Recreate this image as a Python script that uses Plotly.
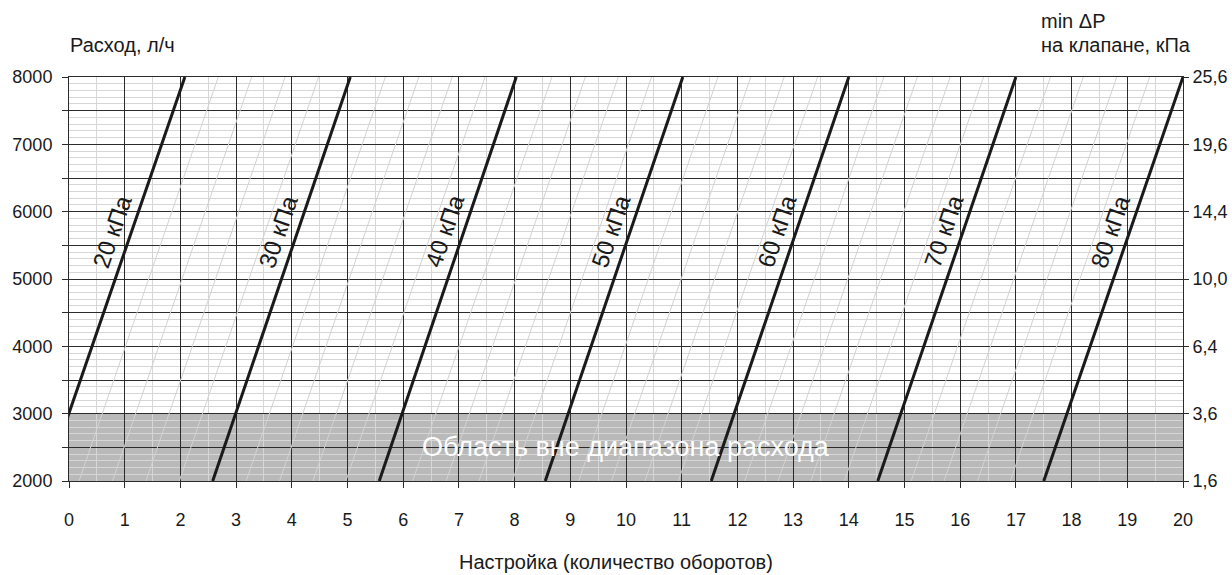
import plotly.graph_objects as go

# ---------------- data ----------------
setting_ticks = list(range(0, 21))                      # Настройка (обороты)
flow_ticks = [2000, 2500, 3000, 3500, 4000, 4500, 5000, 5500, 6000, 6500, 7000, 7500, 8000]
flow_tick_text = ["2000", "", "3000", "", "4000", "", "5000", "", "6000", "", "7000", "", "8000"]
dp_tick_vals = [2000, 3000, 4000, 5000, 6000, 7000, 8000]
dp_tick_text = ["1,6", "3,6", "6,4", "10,0", "14,4", "19,6", "25,6"]

# thick ΔP lines: setting at flow 2000 and at flow 8000
dp_labels = ["20 кПа", "30 кПа", "40 кПа", "50 кПа", "60 кПа", "70 кПа", "80 кПа"]
dp_x_bottom = [-0.42, 2.58, 5.57, 8.55, 11.53, 14.52, 17.50]
dp_x_top = [2.08, 5.05, 8.03, 11.02, 14.00, 17.00, 20.00]

# thin intermediate lines
thin_x_bottom = [0.18, 0.78, 1.38, 1.98, 3.18, 3.78, 4.38, 4.97,
                 6.17, 6.77, 7.36, 7.96, 9.15, 9.74, 10.34, 10.94,
                 12.13, 12.73, 13.32, 13.92, 15.12, 15.71, 16.31, 16.90]
thin_x_top = [2.68, 3.28, 3.88, 4.48, 5.68, 6.28, 6.88, 7.47,
              8.67, 9.27, 9.86, 10.46, 11.65, 12.24, 12.84, 13.44,
              14.63, 15.23, 15.82, 16.42, 17.62, 18.21, 18.81, 19.40]

flow_min, flow_max = 2000, 8000
band_flow = [2000, 3000]          # область вне диапазона расхода
label_flow = 5712                 # flow level where the line labels sit

FONT = "Arial, 'Liberation Sans', sans-serif"
DARK = "#2b2b2b"
MINOR = "#d6d6d6"
TXT = "#1a1a1a"

fig = go.Figure()

# thin lines
tx, ty = [], []
for xb, xt in zip(thin_x_bottom, thin_x_top):
    tx += [xb, xt, None]
    ty += [flow_min, flow_max, None]
fig.add_trace(go.Scatter(x=tx, y=ty, mode="lines",
                         line=dict(color="#d2d2d2", width=1),
                         hoverinfo="skip", showlegend=False))

# thick lines
for lab, xb, xt in zip(dp_labels, dp_x_bottom, dp_x_top):
    fig.add_trace(go.Scatter(x=[xb, xt], y=[flow_min, flow_max], mode="lines",
                             line=dict(color=TXT, width=3),
                             name=lab, showlegend=False))
    xl = xb + (label_flow - flow_min) / (flow_max - flow_min) * (xt - xb)
    fig.add_annotation(x=xl, y=label_flow, xref="x", yref="y", text=lab,
                       showarrow=False, textangle=-71, xshift=-20,
                       font=dict(family=FONT, size=24, color=TXT))

# invisible trace for right axis
fig.add_trace(go.Scatter(x=[0, 20], y=[flow_min, flow_max], yaxis="y2",
                         mode="lines", line=dict(width=0), opacity=0,
                         hoverinfo="skip", showlegend=False))

# shaded band
fig.add_shape(type="rect", xref="x", yref="y", x0=0, x1=20,
              y0=band_flow[0], y1=band_flow[1],
              fillcolor="#b9b9b9", line=dict(width=0), layer="below")
fig.add_annotation(x=10, y=(band_flow[0] + band_flow[1]) / 2, xref="x", yref="y",
                   text="Область вне диапазона расхода", showarrow=False,
                   font=dict(family=FONT, size=27, color="white"))

# titles
fig.add_annotation(x=-0.0012, y=1.079, xref="paper", yref="paper",
                   text="Расход, л/ч", showarrow=False, xanchor="left", yanchor="middle",
                   font=dict(family=FONT, size=20, color=TXT))
fig.add_annotation(x=0.8705, y=1.1386, xref="paper", yref="paper",
                   text="min ΔP", showarrow=False, xanchor="left", yanchor="middle",
                   font=dict(family=FONT, size=20, color=TXT))
fig.add_annotation(x=0.8705, y=1.0804, xref="paper", yref="paper",
                   text="на клапане, кПа", showarrow=False, xanchor="left", yanchor="middle",
                   font=dict(family=FONT, size=20, color=TXT))
fig.add_annotation(x=0.4914, y=-0.2005, xref="paper", yref="paper",
                   text="Настройка (количество оборотов)", showarrow=False,
                   xanchor="center", yanchor="middle",
                   font=dict(family=FONT, size=20, color=TXT))

fig.update_layout(
    width=1232, height=575,
    margin=dict(l=69, r=49, t=77, b=94, autoexpand=False),
    paper_bgcolor="white", plot_bgcolor="white",
    font=dict(family=FONT, size=18, color=TXT),
    xaxis=dict(range=[0, 20], tickmode="array", tickvals=setting_ticks,
               ticktext=[str(v) for v in setting_ticks],
               ticks="outside", ticklen=6, tickcolor=DARK, tickwidth=1,
               showgrid=True, gridcolor=DARK, gridwidth=1,
               minor=dict(dtick=0.5, tick0=0, showgrid=True, gridcolor=MINOR, gridwidth=1, ticks=""),
               zeroline=False, showline=True, linecolor=DARK, linewidth=1, mirror=True,
               ticklabelstandoff=16, fixedrange=True, automargin=False),
    yaxis=dict(range=[flow_min, flow_max], tickmode="array", tickvals=flow_ticks,
               ticktext=flow_tick_text,
               ticks="outside", ticklen=6, tickcolor=DARK, tickwidth=1,
               showgrid=True, gridcolor=DARK, gridwidth=1,
               minor=dict(dtick=100, tick0=2000, showgrid=True, gridcolor=MINOR, gridwidth=1, ticks=""),
               zeroline=False, showline=True, linecolor=DARK, linewidth=1, mirror=True,
               ticklabelstandoff=6, fixedrange=True, automargin=False),
    yaxis2=dict(range=[flow_min, flow_max], overlaying="y", side="right",
                tickmode="array", tickvals=dp_tick_vals, ticktext=dp_tick_text,
                ticks="outside", ticklen=5, tickcolor=DARK, tickwidth=1,
                showgrid=False, zeroline=False, showline=True, linecolor=DARK, linewidth=1,
                fixedrange=True, automargin=False),
    showlegend=False,
)

fig.write_html("out.html", config={"displayModeBar": False, "staticPlot": True},
               post_script="document.body.style.margin='0';document.body.style.overflow='hidden';")
